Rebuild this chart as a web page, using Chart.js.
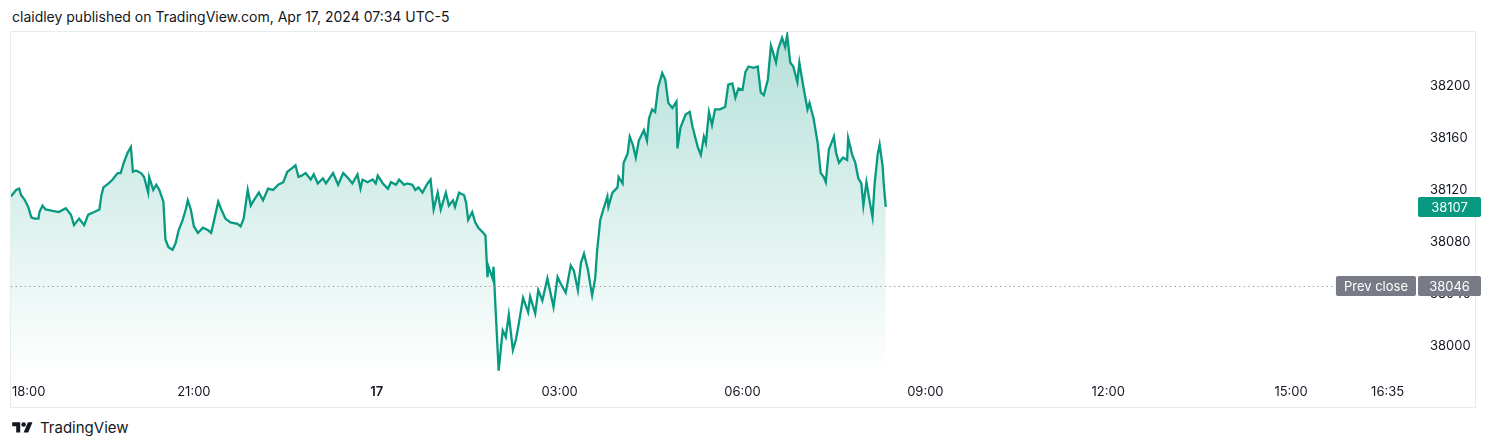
<!DOCTYPE html>
<html>
<head>
<meta charset="utf-8">
<script src="https://cdn.jsdelivr.net/npm/chart.js@4.4.1/dist/chart.umd.min.js"></script>
<style>
  html, body { margin: 0; padding: 0; background: #fff; }
  body { width: 1500px; height: 448px; position: relative; overflow: hidden; font-family: Inter, Roboto, sans-serif; color: #131722; }
  #title { position: absolute; left: 12px; top: 7px; font-size: 14px; line-height: 20px; }
  #frame { position: absolute; left: 10px; top: 31px; width: 1466px; height: 377px; box-sizing: border-box; border: 1px solid #e4eeec; }
  #wrap { position: absolute; left: 11px; top: 32px; width: 1474px; height: 375px; }
  #wrap canvas { display: block; }
  #brand { position: absolute; left: 12px; top: 418px; font-size: 15px; line-height: 20px; display: flex; align-items: center; }
  #brand svg { margin-right: 7px; }
</style>
</head>
<body>
<div id="title">claidley published on TradingView.com, Apr 17, 2024 07:34 UTC-5</div>
<div id="frame"></div>
<div id="wrap"><canvas id="priceChart"></canvas></div>
<div id="brand">
  <svg width="21" height="16" viewBox="0 0 36 28"><path fill="#131722" d="M14 22H7V11H0V4h14v18zM28 22h-8l7.5-18h8L28 22z"/><circle fill="#131722" cx="20" cy="8" r="4"/></svg>
  TradingView
</div>
<script>
// минуты от 18:00 (16 апреля) и цена
const minutes = [
  0, 5, 8, 10, 13, 17, 20, 23, 27, 28, 31, 34, 41, 47, 54, 59, 62, 67, 72, 76,
  82, 87, 89, 91, 96, 100, 105, 108, 111, 115, 118, 120, 123, 128, 131, 135, 136, 140, 143, 146,
  150, 152, 155, 159, 162, 165, 169, 172, 174, 177, 180, 184, 189, 194, 197, 200, 204, 207, 211, 216,
  223, 226, 229, 233, 236, 239, 244, 248, 253, 258, 263, 268, 272, 277, 280, 283, 286,
  290, 295, 298, 302, 307, 310, 317, 322, 327, 332, 336, 341, 344, 346, 351, 356, 359, 361, 366, 371,
  374, 379, 382, 387, 390, 395, 398, 401, 405, 410, 413, 416, 420, 423, 428, 431, 435, 437, 441, 446,
  448, 450, 454, 457, 460, 465, 467, 469, 470, 474, 475, 477, 480, 484, 487, 490, 494, 497, 500, 504,
  509, 511, 516, 519, 523, 528, 531, 534, 538, 541, 546, 551, 554, 558, 561, 564, 568, 570, 572, 575,
  577, 580,
  583, 587, 588, 592, 597, 598, 602, 603, 607, 609, 612, 615, 618, 623, 626, 628, 631, 634, 637, 641,
  644, 647, 651, 655, 656, 659, 664, 668, 671, 676, 679, 682, 684, 687, 690, 693, 698, 703, 706, 710,
  713, 716, 720, 723, 726, 731, 735, 738, 741, 745, 748, 750, 753, 755, 759, 762, 764, 767, 770, 774,
  776, 780, 784, 786, 790, 794, 797, 800, 802, 805, 810, 812, 815, 819, 823, 824, 828, 831, 834, 837,
  839, 842, 845, 848, 850, 853, 855, 858, 859, 861
];
const prices = [
  38115, 38120, 38121, 38116, 38113, 38107, 38099, 38098, 38098, 38103, 38108, 38105, 38104, 38103, 38106, 38101, 38093, 38098, 38093, 38101,
  38103, 38105, 38116, 38122, 38125, 38128, 38133, 38133, 38141, 38149, 38153, 38134, 38135, 38133, 38130, 38118, 38130, 38120, 38124, 38120,
  38111, 38082, 38076, 38074, 38079, 38089, 38097, 38105, 38112, 38105, 38092, 38087, 38091, 38089, 38087, 38097, 38111, 38105, 38098, 38095,
  38094, 38092, 38098, 38120, 38108, 38112, 38118, 38112, 38121, 38120, 38124, 38126, 38134, 38137, 38139, 38130, 38131,
  38133, 38128, 38132, 38125, 38129, 38125, 38133, 38124, 38133, 38129, 38125, 38132, 38121, 38128, 38126, 38128, 38125, 38131, 38125, 38121,
  38126, 38124, 38128, 38124, 38125, 38124, 38120, 38122, 38118, 38125, 38128, 38105, 38118, 38105, 38118, 38108, 38112, 38107, 38118, 38116,
  38110, 38097, 38103, 38095, 38091, 38087, 38085, 38053, 38061, 38052, 38061, 38028, 37981, 38012, 38007, 38024, 37997, 38005, 38018, 38037,
  38026, 38038, 38025, 38043, 38035, 38052, 38041, 38030, 38053, 38048, 38041, 38062, 38058, 38043, 38064, 38071, 38058, 38048, 38039, 38052,
  38074, 38097,
  38105, 38115, 38107, 38118, 38122, 38130, 38125, 38141, 38148, 38161, 38155, 38145, 38158, 38166, 38158, 38175, 38182, 38180, 38199, 38210,
  38205, 38187, 38183, 38188, 38152, 38168, 38178, 38180, 38168, 38153, 38147, 38161, 38156, 38180, 38170, 38182, 38182, 38184, 38201, 38202,
  38191, 38198, 38197, 38211, 38215, 38214, 38215, 38195, 38193, 38205, 38231, 38226, 38218, 38228, 38237, 38230, 38239, 38218, 38215, 38203,
  38218, 38199, 38182, 38187, 38175, 38156, 38133, 38130, 38126, 38151, 38161, 38149, 38141, 38145, 38143, 38160, 38147, 38141, 38129, 38125,
  38108, 38126, 38112, 38099, 38124, 38147, 38155, 38138, 38125, 38107
];

const yTicks = [38000, 38040, 38080, 38120, 38160, 38200];
const xTickMinutes = [0, 180, 360, 540, 720, 900, 1080, 1260, 1355];
const xTickLabels = ['18:00', '21:00', '17', '03:00', '06:00', '09:00', '12:00', '15:00', '16:35'];
const prevClose = 38046;
const lastPrice = 38107;

const FONT = 'Inter, Roboto, sans-serif';
const TEAL = '#089981';

function box(ctx, x, y, w, h, color) {
    ctx.fillStyle = color;
    ctx.beginPath();
    ctx.roundRect(x, y, w, h, 2);
    ctx.fill();
}

// пунктир prev close, плашки справа, подписи времени
const overlays = {
    id: 'overlays',
    afterDraw(chart) {
        const { ctx, chartArea, scales: { x, y } } = chart;
        ctx.save();
        ctx.font = '13px ' + FONT;
        ctx.textBaseline = 'middle';

        const py = Math.round(y.getPixelForValue(prevClose));
        const valLeft = chartArea.right + 5;
        const valW = 63;
        const pcW = ctx.measureText('Prev close').width + 16;
        const pcLeft = chartArea.right + 3 - pcW;

        ctx.strokeStyle = '#8b8e97';
        ctx.lineWidth = 1;
        ctx.setLineDash([1.2, 3.4]);
        ctx.beginPath();
        ctx.moveTo(chartArea.left, py + 0.5);
        ctx.lineTo(pcLeft, py + 0.5);
        ctx.stroke();
        ctx.setLineDash([]);

        box(ctx, pcLeft, py - 10, pcW, 20, '#787b86');
        box(ctx, valLeft, py - 10, valW, 20, '#787b86');
        ctx.fillStyle = '#ffffff';
        ctx.textAlign = 'center';
        ctx.fillText('Prev close', pcLeft + pcW / 2, py + 1);
        ctx.fillText(String(prevClose), valLeft + valW / 2, py + 1);

        const ly = Math.round(y.getPixelForValue(lastPrice));
        box(ctx, valLeft, ly - 10, valW, 20, TEAL);
        ctx.fillStyle = '#ffffff';
        ctx.fillText(String(lastPrice), valLeft + valW / 2, ly + 1);

        ctx.fillStyle = '#131722';
        const ty = chartArea.bottom + 17;
        xTickMinutes.forEach((m, i) => {
            const label = xTickLabels[i];
            ctx.font = (label === '17' ? '600 13px ' : '13px ') + FONT;
            const w = ctx.measureText(label).width;
            let px = x.getPixelForValue(m);
            if (px - w / 2 < chartArea.left + 1) {
                ctx.textAlign = 'left';
                px = chartArea.left + 1;
            } else {
                ctx.textAlign = 'center';
            }
            ctx.fillText(label, px, ty);
        });
        ctx.restore();
    }
};

function initPriceChart() {
    const ctx = document.getElementById('priceChart').getContext('2d');

    new Chart(ctx, {
        type: 'line',
        data: {
            datasets: [{
                data: minutes.map((m, i) => ({ x: m, y: prices[i] })),
                borderColor: TEAL,
                borderWidth: 2.3,
                pointRadius: 0,
                tension: 0,
                fill: 'start',
                backgroundColor(c) {
                    const area = c.chart.chartArea;
                    if (!area) return 'rgba(8, 153, 129, 0.15)';
                    const g = c.chart.ctx.createLinearGradient(0, area.top, 0, area.bottom);
                    g.addColorStop(0, 'rgba(8, 153, 129, 0.30)');
                    g.addColorStop(1, 'rgba(8, 153, 129, 0.0)');
                    return g;
                }
            }]
        },
        options: {
            responsive: true,
            maintainAspectRatio: false,
            animation: false,
            layout: { padding: { top: 0, left: 0, bottom: 0, right: 11 } },
            plugins: {
                legend: { display: false },
                title: { display: false },
                tooltip: { enabled: false }
            },
            scales: {
                x: {
                    type: 'linear',
                    min: 0,
                    max: 1380,
                    grid: { display: false, drawTicks: false },
                    border: { display: false },
                    ticks: { display: false },
                    afterFit(s) {
                        s.height = 32;
                        s.paddingLeft = 0; s.paddingRight = 0;
                    }
                },
                y: {
                    position: 'right',
                    min: 37977.7,
                    max: 38241.5,
                    grid: { display: false, drawTicks: false },
                    border: { display: false },
                    afterBuildTicks(s) { s.ticks = yTicks.map(v => ({ value: v })); },
                    ticks: {
                        color: '#131722',
                        font: { family: FONT, size: 13 },
                        padding: 17,
                        crossAlign: 'near',
                        callback: v => String(v)
                    },
                    afterFit(s) {
                        s.width = 61;
                        s.paddingTop = 0; s.paddingBottom = 0;
                    }
                }
            }
        },
        plugins: [overlays]
    });
}

document.addEventListener('DOMContentLoaded', initPriceChart);
</script>
</body>
</html>
